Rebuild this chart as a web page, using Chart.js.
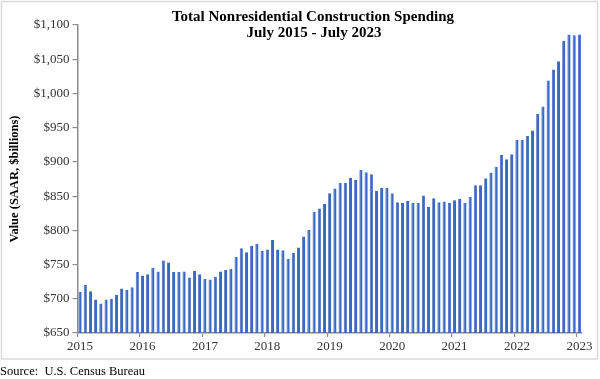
<!DOCTYPE html>
<html>
<head>
<meta charset="utf-8">
<script src="https://cdn.jsdelivr.net/npm/chart.js@4.4.0/dist/chart.umd.min.js"></script>
<style>
  html, body { margin: 0; padding: 0; background: #ffffff; }
  #wrap { position: relative; width: 600px; height: 379px; }
  canvas { display: block; }
</style>
</head>
<body>
<div id="wrap"><canvas id="c" width="600" height="379"></canvas></div>
<script>
// ---- Data ----
const titleLines = ["Total Nonresidential Construction Spending", "July 2015 - July 2023"];
const yAxisTitle = "Value (SAAR, $billions)";
const sourceText = "Source:  U.S. Census Bureau";

// Monthly categories, July 2015 .. July 2023
const categories = [];
for (let y = 2015; y <= 2023; y++) {
  for (let m = 1; m <= 12; m++) {
    if ((y === 2015 && m < 7) || (y === 2023 && m > 7)) continue;
    categories.push(y + "-" + String(m).padStart(2, "0"));
  }
}

// Spending values, $ billions (SAAR)
const spending = [
  710, 720, 711, 699, 693, 699, 700, 706, 715, 713, 717, 739,
  734, 736, 745, 740, 756, 753, 739, 739, 740, 731, 741, 736,
  729, 728, 732, 740, 742, 744, 761, 774, 768, 777, 780, 770,
  772, 786, 772, 771, 758, 767, 775, 791, 801, 827, 832, 839,
  854, 861, 869, 869, 877, 874, 888, 885, 882, 858, 862, 862,
  854, 841, 840, 843, 840, 840, 851, 834, 847, 841, 842, 840,
  844, 846, 840, 849, 866, 866, 876, 884, 893, 910, 904, 911,
  932, 932, 938, 946, 970, 981, 1019, 1035, 1047, 1077, 1086, 1085,
  1086
];

// X tick labels shown every 12 months (at each July)
const xTickLabels = ["2015", "2016", "2017", "2018", "2019", "2020", "2021", "2022", "2023"];
const yMin = 650, yMax = 1100, yStep = 50;

const serif = "'Liberation Serif', 'Times New Roman', serif";

const framePlugin = {
  id: 'frame',
  beforeDraw(chart) {
    const ctx = chart.ctx;
    ctx.save();
    ctx.fillStyle = '#ffffff';
    ctx.fillRect(0, 0, chart.width, chart.height);
    ctx.strokeStyle = '#d9d9d9';
    ctx.lineWidth = 1.5;
    ctx.strokeRect(1.5, 1.5, 596, 357.5);
    ctx.restore();
  },
  afterDraw(chart) {
    const ctx = chart.ctx;
    ctx.save();
    ctx.fillStyle = '#000000';
    ctx.textAlign = 'center';
    ctx.textBaseline = 'alphabetic';
    ctx.font = "bold 15px " + serif;
    ctx.fillText(titleLines[0], 313, 21);
    ctx.fillText(titleLines[1], 314, 37);
    ctx.textAlign = 'left';
    ctx.font = "12.5px " + serif;
    ctx.fillText(sourceText, 0, 375);
    ctx.restore();
  }
};

new Chart(document.getElementById('c'), {
  type: 'bar',
  data: {
    labels: categories,
    datasets: [{
      data: spending,
      backgroundColor: '#3a68c8',
      borderColor: '#2a52a6',
      borderWidth: { left: 0.8, right: 0, top: 0, bottom: 0 },
      barPercentage: 0.6,
      categoryPercentage: 1.0
    }]
  },
  options: {
    responsive: false,
    animation: false,
    layout: { padding: { top: 25, right: 18, bottom: 0, left: 0 } },
    plugins: {
      legend: { display: false },
      tooltip: { enabled: false },
      title: { display: false }
    },
    scales: {
      x: {
        type: 'category',
        offset: true,
        grid: {
          display: true,
          offset: true,
          drawOnChartArea: false,
          drawTicks: true,
          tickLength: 4,
          color: (c) => (c.index % 12 === 0 ? '#8c8c8c' : 'rgba(0,0,0,0)'),
          lineWidth: 1.2
        },
        border: { display: true, color: '#8c8c8c', width: 1.5 },
        ticks: {
          autoSkip: false,
          maxRotation: 0,
          minRotation: 0,
          padding: 2,
          color: '#333333',
          font: { family: serif, size: 13 },
          callback: function (value, index) {
            return index % 12 === 0 ? xTickLabels[index / 12] : '';
          }
        },
        afterFit: (scale) => { scale.height = 46; }
      },
      y: {
        min: yMin,
        max: yMax,
        grid: {
          display: true,
          drawOnChartArea: false,
          drawTicks: true,
          tickLength: 5,
          color: '#8c8c8c',
          lineWidth: 1.2
        },
        border: { display: true, color: '#8c8c8c', width: 1.5 },
        ticks: {
          stepSize: yStep,
          padding: 3,
          color: '#333333',
          font: { family: serif, size: 13 },
          callback: (v) => '$' + Number(v).toLocaleString('en-US')
        },
        title: {
          display: true,
          text: yAxisTitle,
          color: '#000000',
          font: { family: serif, size: 12.5, weight: 'bold' },
          padding: { top: 7, bottom: 0 }
        },
        afterFit: (scale) => { scale.width = 77.5; }
      }
    }
  },
  plugins: [framePlugin]
});
</script>
</body>
</html>
